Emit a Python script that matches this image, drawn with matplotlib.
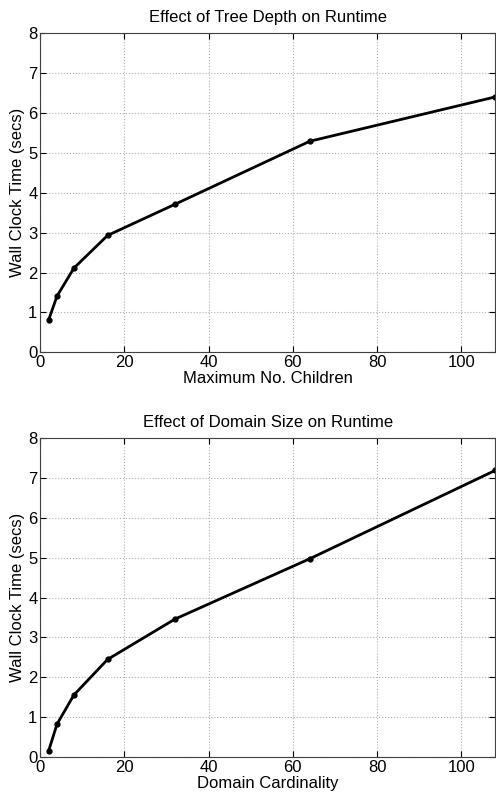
import matplotlib
matplotlib.use("Agg")
import matplotlib.pyplot as plt

plt.rcParams['font.family'] = ['Liberation Sans', 'DejaVu Sans']

# data
children = [2, 4, 8, 16, 32, 64, 108]
depth_time = [0.81, 1.41, 2.11, 2.93, 3.71, 5.29, 6.40]

cardinality = [2, 4, 8, 16, 32, 64, 108]
domain_time = [0.16, 0.83, 1.56, 2.45, 3.46, 4.97, 7.18]

titles = ["Effect of Tree Depth on Runtime", "Effect of Domain Size on Runtime"]
xlabels = ["Maximum No. Children", "Domain Cardinality"]
ylabel = "Wall Clock Time (secs)"

fig = plt.figure(figsize=(4.96, 7.93), dpi=100)
ax1 = fig.add_axes([0.081, 0.5557, 0.917, 0.4025])
ax2 = fig.add_axes([0.081, 0.045, 0.917, 0.403])

for ax, xs, ys, t, xl in [(ax1, children, depth_time, titles[0], xlabels[0]),
                          (ax2, cardinality, domain_time, titles[1], xlabels[1])]:
    ax.plot(xs, ys, color='black', linewidth=2, marker='o', markersize=3.5, clip_on=False)
    ax.set_xlim(0, 108)
    ax.set_ylim(0, 8)
    ax.set_xticks([0, 20, 40, 60, 80, 100])
    ax.set_yticks(range(9))
    ax.grid(True, linestyle=':', color='#b0b0b0', linewidth=0.8)
    ax.tick_params(direction='in', top=True, right=True, labelsize=12, length=4, pad=2)
    ax.set_title(t, fontsize=12, pad=8)
    ax.set_xlabel(xl, fontsize=12, labelpad=0.5)
    ax.set_ylabel(ylabel, fontsize=12, labelpad=2)
    for s in ax.spines.values():
        s.set_linewidth(0.8)
        s.set_color('#404040')

fig.savefig("out.png", dpi=100)
